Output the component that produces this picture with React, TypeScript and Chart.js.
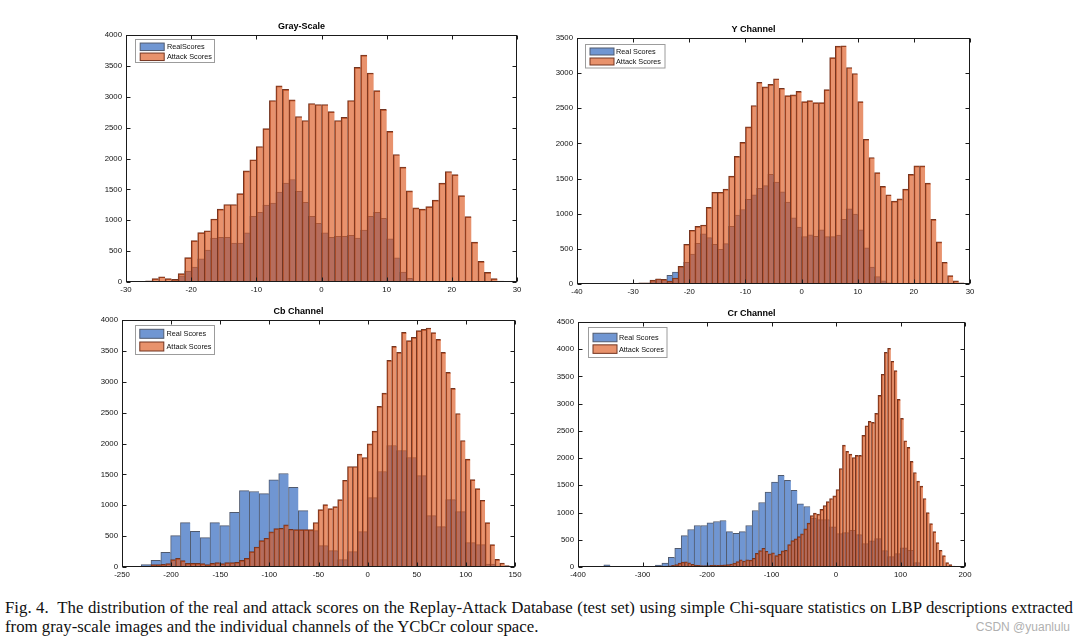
import React, { useEffect, useRef } from 'react';
import { Chart, registerables } from 'chart.js';

Chart.register(...registerables);

// ---------- Gray-Scale ----------
const grayRealStart = -24;
const grayRealWidth = 1;
const grayReal = [10, 30, 100, 175, 240, 375, 515, 710, 725, 725, 630, 630, 795, 1065, 1130, 1245, 1280, 1455, 1600, 1660, 1470, 1290, 1065, 950, 795, 725, 740, 740, 755, 710, 840, 1065, 1130, 1030, 700, 390, 160, 60, 10];
const grayAttackStart = -28;
const grayAttackWidth = 1;
const grayAttack = [5, 20, 55, 85, 55, 45, 135, 395, 670, 800, 830, 1020, 1180, 1255, 1255, 1430, 1800, 1980, 2195, 2485, 2940, 3175, 3120, 2950, 2680, 2615, 2890, 2875, 2875, 2760, 2615, 2665, 2940, 3475, 3675, 3385, 3100, 2795, 2440, 2065, 1860, 1475, 1200, 1180, 1220, 1325, 1600, 1790, 1740, 1400, 1060, 645, 335, 155, 55, 15];

// ---------- Y Channel ----------
const yRealStart = -31;
const yRealWidth = 1;
const yReal = [5, 0, 5, 10, 50, 65, 60, 125, 170, 250, 310, 425, 580, 715, 660, 565, 495, 575, 820, 980, 1060, 1205, 1270, 1360, 1400, 1560, 1450, 1310, 1165, 940, 810, 675, 700, 680, 770, 675, 675, 695, 920, 1070, 995, 770, 515, 240, 105, 45, 15, 5];
const yAttackStart = -30;
const yAttackWidth = 1;
const yAttack = [5, 15, 15, 55, 75, 65, 40, 85, 250, 565, 765, 820, 840, 1090, 1305, 1305, 1350, 1535, 1815, 2015, 2235, 2540, 2870, 2805, 2840, 2920, 2785, 2680, 2690, 2740, 2595, 2610, 2580, 2580, 2765, 3220, 3385, 3390, 3080, 2995, 2595, 2060, 1800, 1585, 1390, 1270, 1180, 1210, 1350, 1560, 1680, 1680, 1435, 920, 600, 310, 120, 45, 15];

// ---------- Cb Channel ----------
const cbRealStart = -230.5;
const cbRealWidth = 10;
const cbReal = [38, 108, 238, 508, 719, 578, 476, 719, 670, 886, 1238, 1222, 1189, 1411, 1514, 1292, 914, 590, 346, 265, 119, 249, 573, 1124, 1546, 1968, 1886, 1773, 1481, 832, 654, 1092, 897, 395, 362, 49];
const cbAttackStart = -235.5;
const cbAttackWidth = 5;
const cbAttack = [10, 5, 10, 38, 38, 43, 54, 119, 140, 103, 59, 59, 59, 54, 38, 59, 70, 54, 70, 70, 76, 108, 140, 249, 324, 427, 465, 568, 622, 627, 681, 611, 605, 605, 605, 605, 720, 930, 1011, 946, 978, 1092, 1405, 1627, 1627, 1827, 1773, 1995, 2200, 2600, 2816, 3346, 3573, 3476, 3800, 3665, 3719, 3827, 3849, 3870, 3795, 3686, 3476, 3151, 2892, 2486, 2049, 1746, 1416, 1270, 1081, 719, 362, 124, 65, 22];

// ---------- Cr Channel ----------
const crRealStart = -360;
const crRealWidth = 10;
const crReal = [40, 0, 0, 0, 0, 0, 3, 12, 37, 74, 178, 344, 577, 688, 762, 762, 811, 835, 854, 651, 620, 651, 762, 1038, 1185, 1376, 1560, 1683, 1591, 1407, 1161, 1112, 900, 870, 870, 736, 613, 632, 675, 595, 429, 479, 521, 300, 190, 245, 350, 307, 80];
const crAttackStart = -290;
const crAttackWidth = 5;
const crAttack = [5, 5, 5, 10, 10, 15, 20, 30, 45, 70, 90, 95, 75, 50, 35, 30, 25, 25, 25, 30, 35, 30, 35, 40, 45, 55, 70, 100, 130, 110, 130, 125, 160, 250, 300, 345, 290, 240, 258, 209, 233, 295, 307, 412, 485, 516, 559, 608, 700, 805, 946, 989, 971, 1057, 1130, 1200, 1258, 1307, 1423, 1810, 2239, 2123, 2074, 2012, 2049, 2049, 2417, 2595, 2675, 2656, 2822, 3153, 3540, 3945, 4018, 3779, 3607, 3080, 2730, 2319, 2196, 1939, 1736, 1577, 1485, 1258, 1000, 798, 650, 448, 307, 209, 80, 43, 18];

// ---------- Axis ranges / labels ----------
const titles = ['Gray-Scale', 'Y Channel', 'Cb Channel', 'Cr Channel'];
const realLabels = ['RealScores', 'Real Scores', 'Real Scores', 'Real Scores'];
const attackLabel = 'Attack Scores';
const xRanges = [[-30, 30, 10], [-40, 30, 10], [-250, 150, 50], [-400, 200, 100]];
const yRanges = [[0, 4000, 500], [0, 3500, 500], [0, 4000, 500], [0, 4500, 500]];

const captionLine1 = 'Fig. 4.  The distribution of the real and attack scores on the Replay-Attack Database (test set) using simple Chi-square statistics on LBP descriptions extracted';
const captionLine2 = 'from gray-scale images and the individual channels of the YCbCr colour space.';
const watermark = 'CSDN @yuanlulu';

// ---------- Styles ----------
const BLUE = 'rgb(112,150,210)';
const BLUE_EDGE = 'rgb(80,90,110)';
const ORANGE = 'rgba(220,88,30,0.65)';
const ORANGE_SWATCH = 'rgb(232,146,108)';
const ORANGE_EDGE = 'rgb(115,52,32)';
const SANS = '"Liberation Sans", Arial, sans-serif';

const PAD_L = 40;
const PAD_R = 40;
const PAD_T = 20;
const PAD_B = 16;

const plotBoxes = [
  { L: 126, T: 35, R: 517, B: 282, legend: { dx: 8.5, dy: 4, w: 79, h: 23, rows: [7.3, 17.3], sx: 4.7, sw: 24, sh: 7.5, tx: 31.4 } },
  { L: 577, T: 38, R: 970, B: 284, legend: { dx: 7.5, dy: 5.5, w: 79.5, h: 23.5, rows: [7, 17], sx: 4.5, sw: 24, sh: 7, tx: 30.5 } },
  { L: 122, T: 320, R: 515, B: 567, legend: { dx: 13, dy: 5, w: 79, h: 29, rows: [8.3, 21], sx: 4.3, sw: 24, sh: 9, tx: 31 } },
  { L: 578, T: 322, R: 965, B: 567, legend: { dx: 9.5, dy: 4.5, w: 78.5, h: 30, rows: [10, 21.6], sx: 4.5, sw: 24, sh: 8.5, tx: 30.4 } },
];

const series = [
  { real: grayReal, rs: grayRealStart, rw: grayRealWidth, attack: grayAttack, as: grayAttackStart, aw: grayAttackWidth },
  { real: yReal, rs: yRealStart, rw: yRealWidth, attack: yAttack, as: yAttackStart, aw: yAttackWidth },
  { real: cbReal, rs: cbRealStart, rw: cbRealWidth, attack: cbAttack, as: cbAttackStart, aw: cbAttackWidth },
  { real: crReal, rs: crRealStart, rw: crRealWidth, attack: crAttack, as: crAttackStart, aw: crAttackWidth },
];

function toPoints(counts: number[], start: number, width: number) {
  return counts.map((c, i) => ({ x: start + (i + 0.5) * width, y: c }));
}

const matlabAxes = {
  id: 'matlabAxes',
  afterDatasetsDraw(chart: any, _args: any, opts: any) {
    const { ctx, chartArea: a, scales } = chart;
    ctx.save();
    ctx.strokeStyle = '#1a1a1a';
    ctx.lineWidth = 1;
    const l = Math.round(a.left) + 0.5;
    const t = Math.round(a.top) + 0.5;
    const r = Math.round(a.right) - 0.5;
    const b = Math.round(a.bottom) - 0.5;
    const tl = 4;
    ctx.beginPath();
    scales.x.ticks.forEach((tk: any) => {
      const px = Math.round(scales.x.getPixelForValue(tk.value)) + 0.5;
      ctx.moveTo(px, b); ctx.lineTo(px, b - tl);
      ctx.moveTo(px, t); ctx.lineTo(px, t + tl);
    });
    scales.y.ticks.forEach((tk: any) => {
      const py = Math.round(scales.y.getPixelForValue(tk.value)) + 0.5;
      ctx.moveTo(l, py); ctx.lineTo(l + tl, py);
      ctx.moveTo(r, py); ctx.lineTo(r - tl, py);
    });
    ctx.stroke();
    ctx.strokeRect(l, t, r - l, b - t);

    const L = opts.legend;
    if (L) {
      const bx = Math.round(a.left + L.dx) + 0.5;
      const by = Math.round(a.top + L.dy) + 0.5;
      ctx.fillStyle = '#fff';
      ctx.fillRect(bx, by, L.w, L.h);
      ctx.strokeStyle = '#9c9c9c';
      ctx.strokeRect(bx, by, L.w, L.h);
      const dsets = chart.data.datasets;
      dsets.forEach((ds: any, i: number) => {
        const cy = by + L.rows[i];
        ctx.fillStyle = opts.swatches[i];
        ctx.fillRect(bx + L.sx, cy - L.sh / 2, L.sw, L.sh);
        ctx.strokeStyle = ds.borderColor;
        ctx.strokeRect(bx + L.sx, cy - L.sh / 2, L.sw, L.sh);
        ctx.fillStyle = '#111';
        ctx.font = `7.3px ${SANS}`;
        ctx.textBaseline = 'middle';
        ctx.textAlign = 'left';
        ctx.fillText(ds.label, bx + L.tx, cy + 0.5);
      });
    }
    ctx.restore();
  },
};

function Hist({ idx }: { idx: number }) {
  const ref = useRef<HTMLCanvasElement | null>(null);
  const box = plotBoxes[idx];
  const w = box.R - box.L + PAD_L + PAD_R;
  const h = box.B - box.T + PAD_T + PAD_B;

  useEffect(() => {
    if (!ref.current) return;
    const s = series[idx];
    const [xmin, xmax, xstep] = xRanges[idx];
    const [ymin, ymax, ystep] = yRanges[idx];
    const tickFont = { family: SANS, size: 7.8 };
    const barCommon = {
      borderWidth: { top: 1, left: 1, right: 0, bottom: 0 },
      borderSkipped: false,
      barPercentage: 1,
      categoryPercentage: 1,
      grouped: false,
    };
    const chart = new Chart(ref.current, {
      type: 'bar',
      data: {
        datasets: [
          {
            label: realLabels[idx],
            data: toPoints(s.real, s.rs, s.rw),
            xAxisID: 'xr',
            yAxisID: 'y',
            backgroundColor: BLUE,
            borderColor: BLUE_EDGE,
            order: 2,
            ...barCommon,
          } as any,
          {
            label: attackLabel,
            data: toPoints(s.attack, s.as, s.aw),
            xAxisID: 'x',
            yAxisID: 'y',
            backgroundColor: ORANGE,
            borderColor: ORANGE_EDGE,
            order: 1,
            ...barCommon,
          } as any,
        ],
      },
      options: {
        animation: false,
        responsive: false,
        devicePixelRatio: 1,
        layout: { padding: { left: 0, right: PAD_R, top: 0, bottom: 0 } },
        plugins: {
          legend: { display: false },
          tooltip: { enabled: false },
          title: {
            display: true,
            text: titles[idx],
            color: '#000',
            font: { family: SANS, size: 9, weight: 'bold' },
            padding: { top: 6.5, bottom: 2.7 },
          },
          matlabAxes: { legend: box.legend, swatches: [BLUE, ORANGE_SWATCH] },
        } as any,
        scales: {
          x: {
            type: 'linear',
            axis: 'x',
            position: 'bottom',
            min: xmin,
            max: xmax,
            offset: false,
            grid: { display: false, drawTicks: false },
            border: { display: false },
            ticks: {
              stepSize: xstep,
              padding: 3,
              maxRotation: 0,
              autoSkip: false,
              color: '#111',
              font: tickFont,
              callback: (v: any) => String(v),
            },
            afterFit: (sc: any) => { sc.height = PAD_B; },
          },
          xr: {
            type: 'linear',
            axis: 'x',
            position: 'bottom',
            display: false,
            min: xmin,
            max: xmax,
            offset: false,
            ticks: { stepSize: xstep },
          },
          y: {
            type: 'linear',
            min: ymin,
            max: ymax,
            grid: { display: false, drawTicks: false },
            border: { display: false },
            ticks: {
              stepSize: ystep,
              padding: 4,
              color: '#111',
              font: tickFont,
              callback: (v: any) => String(v),
            },
            afterFit: (sc: any) => { sc.width = PAD_L; },
          },
        } as any,
      },
      plugins: [matlabAxes],
    });
    return () => chart.destroy();
  }, [idx]);

  return (
    <div style={{ position: 'absolute', left: box.L - PAD_L, top: box.T - PAD_T, width: w, height: h }}>
      <canvas ref={ref} width={w} height={h} style={{ width: w, height: h, display: 'block' }} />
    </div>
  );
}

export default function App() {
  return (
    <div style={{ position: 'absolute', left: 0, top: 0, width: 1077, height: 643, background: '#fff', overflow: 'hidden' }}>
      {[0, 1, 2, 3].map((i) => <Hist key={i} idx={i} />)}
      <div
        style={{
          position: 'absolute', left: 5, top: 598, width: 1068,
          fontFamily: '"Liberation Serif", "Times New Roman", serif', fontSize: 16.8, lineHeight: '19px', color: '#111',
        }}
      >
        <div style={{ textAlign: 'justify', textAlignLast: 'justify', whiteSpace: 'pre-wrap' }}>{captionLine1}</div>
        <div style={{ textAlign: 'left' }}>{captionLine2}</div>
      </div>
      <div
        style={{
          position: 'absolute', left: 950, top: 620, width: 120, textAlign: 'right',
          fontFamily: SANS, fontSize: 12, color: '#b0b0b0',
        }}
      >
        {watermark}
      </div>
    </div>
  );
}
